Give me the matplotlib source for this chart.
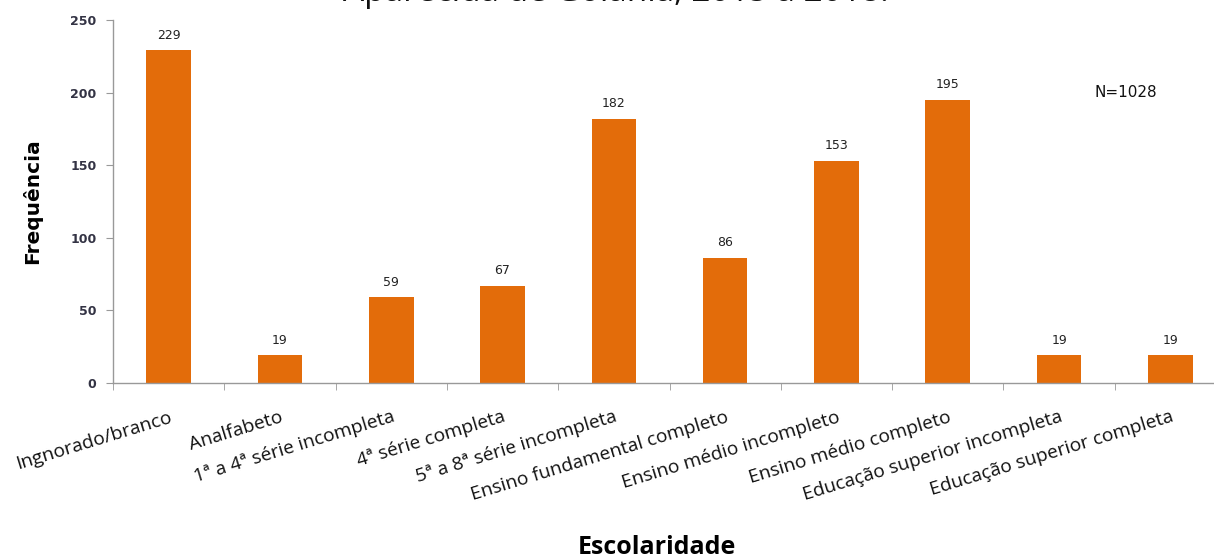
import matplotlib
matplotlib.use("Agg")
import matplotlib.pyplot as plt
import numpy as np

categories = ["Ingnorado/branco", "Analfabeto", "1ª a 4ª série incompleta",
              "4ª série completa", "5ª a 8ª série incompleta",
              "Ensino fundamental completo", "Ensino médio incompleto",
              "Ensino médio completo", "Educação superior incompleta",
              "Educação superior completa"]
values = [229, 19, 59, 67, 182, 86, 153, 195, 19, 19]
yticks = [0, 50, 100, 150, 200, 250]

W, H = 1214, 558
fig = plt.figure(figsize=(W / 100, H / 100), dpi=100)
ax = fig.add_axes([113 / W, 1 - 383 / H, 1113 / W, 363 / H])

x = np.arange(len(categories))
ax.bar(x, values, width=0.4, color="#E36C0A", zorder=2)
for xi, v in zip(x, values):
    ax.text(xi, v + 6, str(v), ha="center", va="bottom", fontsize=9,
            color="#222222", family="DejaVu Sans")

ax.set_xlim(-0.5, len(categories) - 0.5)
ax.set_ylim(0, 250)
ax.set_yticks(yticks)
ax.set_yticklabels([str(t) for t in yticks], fontsize=9, fontweight="bold",
                   color="#333344")
ax.set_xticks(x)
ax.set_xticklabels(categories, rotation=17, ha="right",
                   rotation_mode="anchor", fontsize=13.8, family="Open Sans",
                   color="#111111")
ax.tick_params(axis="x", which="major", length=0, pad=18)
ax.set_xticks(np.arange(-0.5, len(categories), 1.0), minor=True)
ax.tick_params(axis="x", which="minor", length=5, color="#999999", direction="out")
ax.tick_params(axis="y", length=5, color="#999999", direction="out", pad=7)

for s in ["top", "right"]:
    ax.spines[s].set_visible(False)
for s in ["left", "bottom"]:
    ax.spines[s].set_color("#999999")
    ax.spines[s].set_linewidth(1.0)

ax.set_ylabel("Frequência", fontsize=14.5, fontweight="bold",
              family="DejaVu Sans", labelpad=20)
fig.text(657 / W, 1 - 547 / H, "Escolaridade", ha="center", va="center",
         fontsize=18, fontweight="bold", family="Open Sans")
ax.text(8.32, 200, "N=1028", ha="left", va="center", fontsize=11,
        family="DejaVu Sans", color="#111111")

fig.text(616 / W, 1 - 1 / H, "Aparecida de Goiânia, 2015 a 2018.",
         ha="center", va="baseline", fontsize=24, family="Open Sans",
         color="#111111")

fig.savefig("out.png", dpi=100)
